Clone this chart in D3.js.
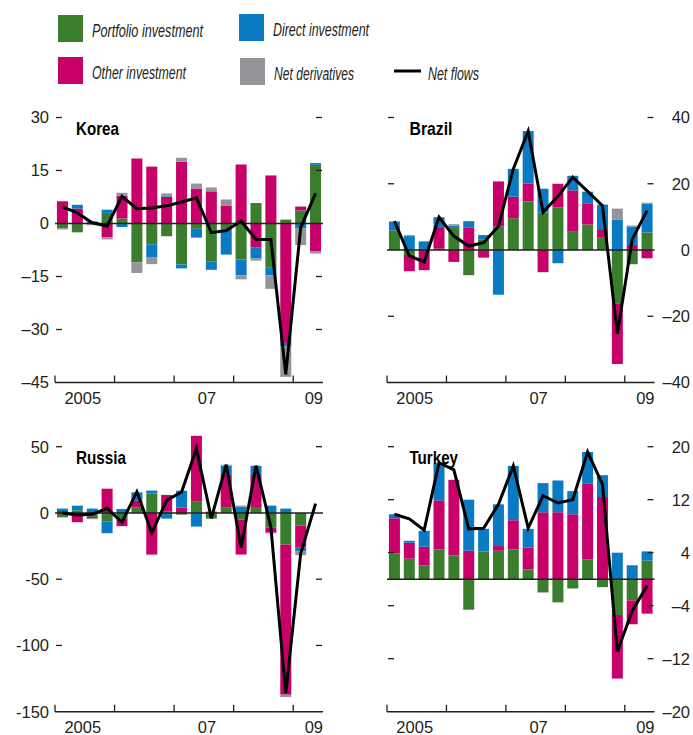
<!DOCTYPE html>
<html>
<head>
<meta charset="utf-8">
<script src="https://cdn.jsdelivr.net/npm/d3@7"></script>
<style>
  html, body { margin: 0; padding: 0; background: #fff; }
  svg { display: block; }
</style>
</head>
<body>
<svg id="chart" width="693" height="735"></svg>
<script>
// ---------------- DATA ----------------
const quarters = ["2005Q1","2005Q2","2005Q3","2005Q4","2006Q1","2006Q2","2006Q3","2006Q4",
  "2007Q1","2007Q2","2007Q3","2007Q4","2008Q1","2008Q2","2008Q3","2008Q4","2009Q1","2009Q2"];
const yearLabels = ["2005", "07", "09"];
const seriesNames = ["Portfolio investment", "Direct investment", "Other investment", "Net derivatives", "Net flows"];

// Korea
const koreaPortfolio = [-1.3, -2.5, -0.2, 3.0, 1.4, -11.0, -5.9, -3.6, -11.6, -1.5, -10.7, -1.5, -10.2, 5.8, -12.4, 1.1, 3.7, 16.6];
const koreaOther     = [6.3, 4.2, 0, -3.9, 6.5, 18.4, 16.1, 7.5, 17.5, 9.9, 9.1, 5.1, 16.7, -6.7, 13.6, -33.8, 1.1, -7.8];
const koreaDirect    = [0, 1.1, 0.6, 0.9, -1.0, 0, -3.6, 0.2, -1.1, -2.5, -2.4, -7.3, -4.5, -3.2, -2.3, -0.9, -1.3, 0.5];
const koreaDeriv     = [-0.4, 0, -0.3, -0.6, 0.8, -3.0, -2.0, 0.8, 1.1, 1.4, 1.1, 1.7, -1.1, -0.6, -3.8, -8.7, -4.8, -0.7];
const koreaNet       = [4.7, 3.0, 0.2, -0.7, 7.7, 4.2, 4.4, 5.0, 6.1, 7.3, -2.6, -2.0, 0.7, -4.5, -4.5, -42.7, -1.2, 8.5];
const koreaTicks     = [30, 15, 0, -15, -30, -45];

// Brazil
const brazilPortfolio = [5.9, -1.5, 0, 0.4, 6.9, -7.6, 3.2, 7.1, 9.6, 14.7, 11.3, 12.9, 5.7, 7.7, 3.9, -16.1, -4.3, 5.3];
const brazilOther     = [0, -4.9, -6.1, 6.5, -3.6, 6.7, -2.3, 13.6, 6.5, 5.4, -6.7, 7.1, 12.3, 6.4, 2.4, -18.3, 1.5, -2.5];
const brazilDirect    = [2.7, 4.2, 2.6, 3.0, 0.5, 2.0, 1.3, -13.5, 8.4, 15.8, 7.2, -4.0, 4.4, 3.5, 7.4, 9.2, 5.6, 8.7];
const brazilDeriv     = [0, 0.3, 0, 0, 0.4, 0, 0, 0, 0, 0, 0, 0, 0, 0, 0, 3.3, 0.3, 0.3];
const brazilNet       = [8.7, -1.8, -3.6, 9.9, 4.2, 1.2, 2.2, 7.2, 24.5, 35.9, 11.4, 16.2, 22.0, 17.7, 13.4, -25.3, 3.2, 11.9];
const brazilTicks     = [40, 20, 0, -20, -40];

// Russia
const russiaPortfolio = [-3.3, 2.0, -3.0, -6.3, -4.5, 4.3, 14.6, 1.3, -1.3, 8.5, -4.3, 4.0, -5.0, 4.5, -11.1, -23.9, -9.5, 0];
const russiaOther     = [1.5, -7.0, -1.2, 18.3, -5.5, 5.0, -31.4, 12.3, 4.0, 49.7, 1.0, 24.6, -26.4, 24.1, -3.8, -113.3, -16.3, 0];
const russiaDirect    = [1.8, 3.5, 3.3, -9.0, 3.0, 6.3, 2.3, -4.3, 12.8, -10.3, 0, 7.0, 4.8, 7.0, 5.5, 3.3, -3.3, 0];
const russiaDeriv     = [0, 0, -0.5, 0, 0, 0, -0.5, 0, 0, 0, 0, 0.8, 0.8, 0, -0.5, -1.8, -2.8, 0];
const russiaNet       = [0, -1.5, -1.0, 3.5, -7.0, 16.0, -15.0, 9.5, 15.8, 48.5, -4.0, 36.4, -26.1, 35.7, -10.6, -136.2, -30.7, 7.0];
const russiaTicks     = [50, 0, -50, -100, -150];

// Turkey
const turkeyPortfolio = [3.9, 3.1, 2.1, 4.5, 3.6, -4.6, 4.2, 4.3, 4.5, 1.5, -2.0, -3.5, -1.4, 3.0, -1.2, -5.4, -3.2, 2.8];
const turkeyOther     = [5.3, 2.4, 2.8, 7.4, 11.4, 4.3, 0, 0.7, 4.4, 3.3, 10.1, 10.1, 9.8, 11.4, 12.4, -9.6, -3.6, -5.2];
const turkeyDirect    = [0.6, 0.3, 2.4, 5.6, 0, 7.7, 3.4, 6.3, 8.2, 2.8, 4.4, 4.8, 3.5, 4.8, 3.3, 4.0, 2.1, 1.4];
const turkeyDeriv     = [0, 0, 0, 0, 0, 0, 0, 0, 0, 0, 0, 0, 0, 0, 0, 0, 0, 0];
const turkeyNet       = [9.8, 9.1, 7.4, 17.6, 16.5, 7.6, 7.7, 11.3, 17.1, 7.7, 12.6, 11.5, 12.0, 19.2, 14.3, -10.9, -4.8, -1.0];
const turkeyTicks     = [20, 12, 4, -4, -12, -20];

// ---------------- STYLE ----------------
const COLORS = { portfolio: "#3a7d2c", other: "#c8006a", direct: "#0a7bc2", deriv: "#949599" };
const INK = "#231f20";
const NARROW = "'Liberation Sans Narrow','Arial Narrow','Liberation Sans',Arial,sans-serif";
const NUM = "'Liberation Sans',Arial,sans-serif";
const keys = ["portfolio", "other", "direct", "deriv"];

const svg = d3.select("#chart");

// ---------------- LEGEND ----------------
const legend = svg.append("g");
const legendItems = [
  { key: "portfolio", label: seriesNames[0], x: 58, y: 15, w: 111 },
  { key: "direct", label: seriesNames[1], x: 239, y: 14, w: 96 },
  { key: "other", label: seriesNames[2], x: 58, y: 57, w: 94 },
  { key: "deriv", label: seriesNames[3], x: 240, y: 58, w: 80 }
];
legendItems.forEach(it => {
  legend.append("rect").attr("x", it.x).attr("y", it.y).attr("width", 25).attr("height", 27)
    .attr("fill", COLORS[it.key]);
  legend.append("text").attr("x", it.x + 34).attr("y", it.y + 21.5)
    .attr("font-family", NARROW).attr("font-style", "italic").attr("font-size", 17.5)
    .attr("textLength", it.w).attr("lengthAdjust", "spacingAndGlyphs")
    .attr("fill", INK).text(it.label);
});
legend.append("line").attr("x1", 394).attr("x2", 421).attr("y1", 71).attr("y2", 71)
  .attr("stroke", "#000").attr("stroke-width", 3);
legend.append("text").attr("x", 428).attr("y", 79.5)
  .attr("font-family", NARROW).attr("font-style", "italic").attr("font-size", 17.5)
  .attr("textLength", 51).attr("lengthAdjust", "spacingAndGlyphs")
  .attr("fill", INK).text(seriesNames[4]);

// ---------------- PANELS ----------------
const panels = [
  { name: "Korea", tw: 43, p: koreaPortfolio, o: koreaOther, d: koreaDirect, g: koreaDeriv, net: koreaNet,
    ticks: koreaTicks, minus: "\u2013", x0: 55, x1: 323, yTop: 117.5, yBot: 382.5, side: "left" },
  { name: "Brazil", tw: 43, p: brazilPortfolio, o: brazilOther, d: brazilDirect, g: brazilDeriv, net: brazilNet,
    ticks: brazilTicks, minus: "\u2013", x0: 387, x1: 654.5, yTop: 117.5, yBot: 382.5, side: "right" },
  { name: "Russia", tw: 50, p: russiaPortfolio, o: russiaOther, d: russiaDirect, g: russiaDeriv, net: russiaNet,
    ticks: russiaTicks, minus: "-", x0: 55, x1: 323, yTop: 446.7, yBot: 711.7, side: "left" },
  { name: "Turkey", tw: 48.5, p: turkeyPortfolio, o: turkeyOther, d: turkeyDirect, g: turkeyDeriv, net: turkeyNet,
    ticks: turkeyTicks, minus: "\u2013", x0: 387, x1: 654.5, yTop: 446.7, yBot: 711.7, side: "right" }
];

panels.forEach(P => {
  const g = svg.append("g");
  const rows = quarters.map((q, i) => ({ q, portfolio: P.p[i], other: P.o[i], direct: P.d[i], deriv: P.g[i] }));
  const stack = d3.stack().keys(keys).offset(d3.stackOffsetDiverging);
  const layers = stack(rows);

  const x = d3.scaleBand().domain(quarters).range([P.x0, P.x1]).paddingInner(0.26).paddingOuter(0.13);
  const y = d3.scaleLinear().domain([P.ticks[P.ticks.length - 1], P.ticks[0]]).range([P.yBot, P.yTop]);

  // bars
  layers.forEach(layer => {
    g.append("g").attr("fill", COLORS[layer.key])
      .selectAll("rect").data(layer).join("rect")
      .attr("x", d => x(d.data.q))
      .attr("width", x.bandwidth())
      .attr("y", d => y(Math.max(d[0], d[1])))
      .attr("height", d => Math.abs(y(d[0]) - y(d[1])));
  });

  // zero line
  g.append("line").attr("x1", P.x0).attr("x2", P.x1).attr("y1", y(0)).attr("y2", y(0))
    .attr("stroke", INK).attr("stroke-width", 1.5);

  // y axis ticks (short inward dashes on both sides) and labels
  const yt = P.ticks.filter(t => t !== 0 && t !== P.ticks[P.ticks.length - 1]);
  g.selectAll(".tl").data(yt).join("line")
    .attr("x1", P.x0 + 1).attr("x2", P.x0 + 7).attr("y1", d => y(d)).attr("y2", d => y(d))
    .attr("stroke", INK).attr("stroke-width", 1.3);
  g.selectAll(".tr").data(yt).join("line")
    .attr("x1", P.x1 - 7).attr("x2", P.x1 - 1).attr("y1", d => y(d)).attr("y2", d => y(d))
    .attr("stroke", INK).attr("stroke-width", 1.3);
  const fmt = v => (v < 0 ? P.minus + Math.abs(v) : String(v));
  g.selectAll(".yl").data(P.ticks).join("text")
    .attr("x", P.side === "left" ? P.x0 - 6 : 690)
    .attr("y", d => y(d)).attr("dy", "0.36em")
    .attr("text-anchor", "end")
    .attr("font-family", NUM).attr("font-size", 16.5).attr("fill", INK)
    .text(fmt);

  // x axis
  g.append("line").attr("x1", P.x0).attr("x2", P.x1).attr("y1", P.yBot).attr("y2", P.yBot)
    .attr("stroke", INK).attr("stroke-width", 1.5);
  const yearStarts = quarters.filter(q => q.endsWith("Q1"));
  g.selectAll(".xt").data(yearStarts).join("line")
    .attr("x1", d => x(d) - x.step() * x.paddingInner() / 2)
    .attr("x2", d => x(d) - x.step() * x.paddingInner() / 2)
    .attr("y1", P.yBot).attr("y2", P.yBot - 7)
    .attr("stroke", INK).attr("stroke-width", 1.3);

  const step = x.step();
  const xl = [
    { t: yearLabels[0], x: x("2005Q3") - step * 0.13 - 2, anchor: "middle" },
    { t: yearLabels[1], x: x("2007Q3") - step * 0.13 + 3, anchor: "middle" },
    { t: yearLabels[2], x: P.x1, anchor: "end" }
  ];
  g.selectAll(".xl").data(xl).join("text")
    .attr("x", d => d.x).attr("y", P.yBot + 21.5)
    .attr("text-anchor", d => d.anchor)
    .attr("font-family", NUM).attr("font-size", 16.5).attr("fill", INK)
    .text(d => d.t);

  // net flows line
  const line = d3.line().x((d, i) => x(quarters[i]) + x.bandwidth() / 2).y(d => y(d));
  g.append("path").datum(P.net).attr("d", line)
    .attr("fill", "none").attr("stroke", "#000").attr("stroke-width", 3).attr("stroke-linejoin", "miter");

  // title
  g.append("text").attr("x", P.side === "left" ? 76 : 409.5).attr("y", P.yTop + 17.5)
    .attr("font-family", NARROW).attr("font-weight", "bold").attr("font-size", 18.5).attr("fill", "#000")
    .attr("textLength", P.tw).attr("lengthAdjust", "spacingAndGlyphs")
    .text(P.name);
});
</script>
</body>
</html>
